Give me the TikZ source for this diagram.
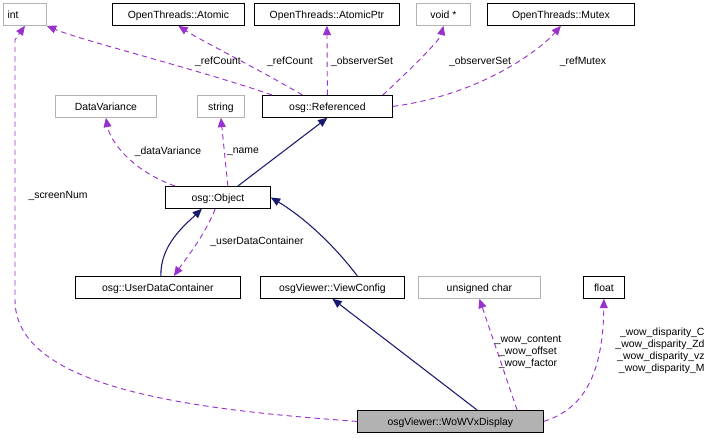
\documentclass[tikz,border=0pt]{standalone}
\usepackage{fontspec}
\setmainfont{Liberation Sans}
\usetikzlibrary{arrows.meta}
\begin{document}
\begin{tikzpicture}[x=0.75pt,y=-0.75pt,
 box/.style={draw=black,line width=0.6pt,minimum height=16.5pt,inner sep=2pt,font=\fontsize{7.8}{9}\selectfont,anchor=north west,text depth=0pt},
 gbox/.style={box,draw=gray!60},
 inh/.style={draw={rgb,255:red,25;green,25;blue,112},line width=0.8pt,-{Triangle[length=7pt,width=6pt]}},
 use/.style={draw={rgb,255:red,153;green,50;blue,204},dash pattern=on 4pt off 3pt,line width=0.7pt,-{Triangle[length=7pt,width=6pt]}},
 lbl/.style={font=\fontsize{7.8}{9}\selectfont,align=center,inner sep=0pt}]
\useasboundingbox (0,0) rectangle (722,439);
\node[gbox,minimum width=32.25pt,text width=26pt,align=left] (int) at (3,3) {int};
\node[box,minimum width=99pt] (atom) at (112,3) {OpenThreads::Atomic};
\node[box,minimum width=108.75pt] (aptr) at (254,3) {OpenThreads::AtomicPtr};
\node[gbox,minimum width=40.5pt] (void) at (416,3) {void *};
\node[box,minimum width=110.25pt] (mutex) at (487,3) {OpenThreads::Mutex};
\node[gbox,minimum width=75.75pt] (dv) at (55,95) {DataVariance};
\node[gbox,minimum width=35.25pt] (str) at (197,95) {string};
\node[box,minimum width=97.5pt] (ref) at (262,95) {osg::Referenced};
\node[box,minimum width=78.75pt] (obj) at (165,186) {osg::Object};
\node[box,minimum width=123.75pt] (udc) at (75,276) {osg::UserDataContainer};
\node[box,minimum width=108pt] (vc) at (260,276) {osgViewer::ViewConfig};
\node[gbox,minimum width=91.5pt] (uc) at (418,276) {unsigned char};
\node[box,minimum width=30.75pt] (fl) at (583,276) {float};
\node[box,fill=gray!60,minimum width=139.5pt] (wow) at (357,410) {osgViewer::WoWVxDisplay};
\draw[use] (ref.north west) ++(10,0) .. controls (200,70) and (80,40) .. (int.south east);
\draw[use] (ref.north) ++(-25,0) .. controls (260,70) and (200,40) .. (atom.south);
\draw[use] (ref.north) -- (aptr.south);
\draw[use] (ref.north east) ++(-10,0) .. controls (410,70) and (440,40) .. (void.south);
\draw[use] (ref.east) .. controls (480,95) and (540,50) .. (mutex.south);
\node[lbl] at (218,62) {\_refCount};
\node[lbl] at (290,62) {\_refCount};
\node[lbl] at (362,62) {\_observerSet};
\node[lbl] at (480,62) {\_observerSet};
\node[lbl] at (583,62) {\_refMutex};
\draw[use] (obj.north west) ++(10,0) .. controls (130,170) and (110,140) .. (dv.south);
\draw[use] (obj.north) ++(10,0) -- (str.south);
\node[lbl] at (168,152) {\_dataVariance};
\node[lbl] at (243,152) {\_name};
\draw[inh] (obj.north) ++(20,0) -- (ref.south);
\draw[inh] (udc.north) ++(3,0) .. controls (160,245) and (185,225) .. ([xshift=-12]obj.south);
\draw[use] ([xshift=-2]obj.south) .. controls (205,235) and (185,260) .. ([xshift=12]udc.north);
\node[lbl] at (257,242) {\_userDataContainer};
\draw[inh] (vc.north) ++(25,0) .. controls (330,240) and (300,215) .. (obj.east);
\draw[inh] ([xshift=20]wow.north) -- (vc.south);
\draw[use] (wow.west) .. controls (200,410) and (15,390) .. (15,300) -- (15,40) -- (int.south);
\node[lbl] at (58,196) {\_screenNum};
\draw[use] ([xshift=50]wow.north) -- (uc.south);
\node[lbl] at (528,352) {\_wow\_content\\\_wow\_offset\\\_wow\_factor};
\draw[use] (wow.east) .. controls (580,410) and (603,380) .. (fl.south);
\node[lbl,align=right] at (660,351) {\_wow\_disparity\_C\\\_wow\_disparity\_Zd\\\_wow\_disparity\_vz\\\_wow\_disparity\_M};
\end{tikzpicture}
\end{document}
